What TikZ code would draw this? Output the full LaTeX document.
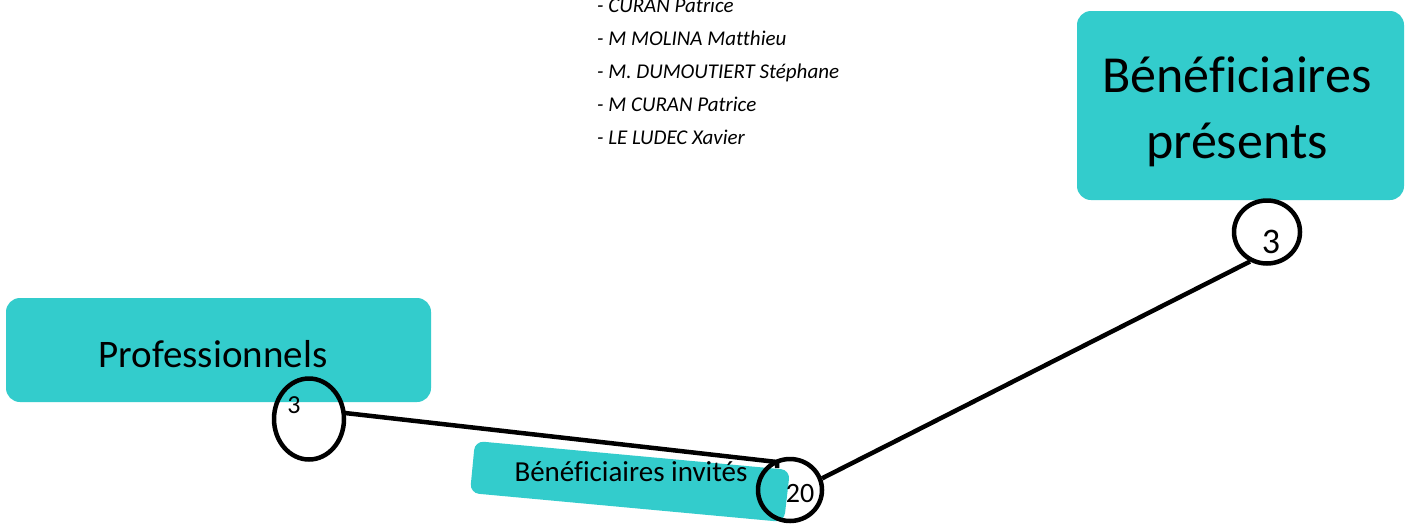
\documentclass[tikz,border=0pt]{standalone}
\usepackage{fontspec}
\setmainfont{Carlito}[Ligatures=NoCommon]
\definecolor{tealbox}{HTML}{33CCCC}
\usetikzlibrary{shapes.geometric}
\tikzset{
  boxfill/.style={fill=tealbox, draw=none, rounded corners=14pt},
  conn/.style={line width=4.5pt, black},
  ring/.style={draw=black, line width=4.5pt, ellipse, inner sep=0pt},
  listitem/.style={anchor=base west, inner sep=0pt, font=\fontsize{21}{25}\selectfont\itshape},
}
\begin{document}
\begin{tikzpicture}[x=1pt,y=-1pt]
\useasboundingbox[fill=white] (0,0) rectangle (1407,525);
% boxes
\fill[boxfill] (6,298) rectangle (431,402);
\node[anchor=base, inner sep=0pt, font=\fontsize{39}{47}\selectfont] (prof) at (213,367) {Professionnels};
\fill[boxfill] (1077,11) rectangle (1404,200);
\node[anchor=base, inner sep=0pt, font=\fontsize{52}{66}\selectfont] (pres) at (1237,92) {Bénéficiaires};
\node[anchor=base, inner sep=0pt, font=\fontsize{52}{66}\selectfont] (pres2) at (1237,158) {présents};
\fill[tealbox, rounded corners=9pt] (790,470) -- (475,441) -- (470,493) -- (784,522) -- cycle;
\node[anchor=base, inner sep=0pt, font=\fontsize{29}{35}\selectfont] (inv) at (631,481) {Bénéficiaires invités};
% list
\node[listitem] (l1) at (597,12) {- CURAN Patrice};
\node[listitem] (l2) at (597,45) {- M MOLINA Matthieu};
\node[listitem] (l3) at (597,78) {- M. DUMOUTIERT Stéphane};
\node[listitem] (l4) at (597,111) {- M CURAN Patrice};
\node[listitem] (l5) at (597,144) {- LE LUDEC Xavier};
% circles
\node[ring, minimum width=70pt, minimum height=81pt] (c1) at (309,419) {};
\node[anchor=base, inner sep=0pt, font=\fontsize{26}{31}\selectfont] (t1) at (294,413) {3};
\node[ring, minimum width=64pt, minimum height=62pt] (c20) at (790,490) {};
\node[anchor=base, inner sep=0pt, font=\fontsize{28}{33}\selectfont] (t20) at (800,502) {20};
\node[ring, minimum width=66pt, minimum height=63pt] (c3) at (1267,232) {};
\node[anchor=base, inner sep=0pt, font=\fontsize{36}{43}\selectfont] (t3) at (1271,253) {3};
% connectors
\coordinate (s1) at (345,413);
\coordinate (tick) at (777,462);
\draw[conn] (s1) -- (tick) -- ++(0,6);
\draw[conn] (c20.20) -- (c3.240);
\end{tikzpicture}
\end{document}
